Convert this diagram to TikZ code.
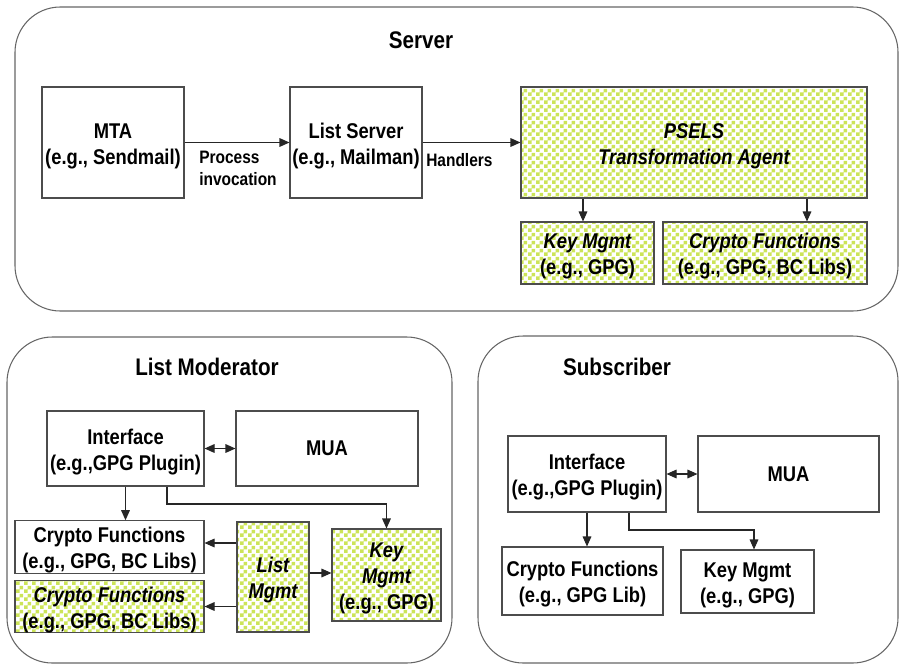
\documentclass[tikz,border=0pt]{standalone}
\usepackage{fontspec}
\setmainfont{Liberation Sans}[FakeStretch=0.86]
\usetikzlibrary{arrows.meta,patterns}
\definecolor{lime}{RGB}{204,228,88}
\newcommand\topstrut{\rule{0pt}{16.5pt}}
\pgfdeclarepatternformonly{mychecker}{\pgfpointorigin}{\pgfqpoint{6pt}{6pt}}{\pgfqpoint{6pt}{6pt}}{%
  \pgfpathrectangle{\pgfpointorigin}{\pgfqpoint{3pt}{3pt}}%
  \pgfpathrectangle{\pgfqpoint{3pt}{3pt}}{\pgfqpoint{3pt}{3pt}}%
  \pgfusepath{fill}}
\begin{document}
\begin{tikzpicture}[x=0.75pt,y=-0.75pt,
  wh/.style 2 args={minimum width=#1*0.75pt, minimum height=#2*0.75pt},
  outer/.style={draw=black!60, line width=0.8pt, rounded corners=34pt, inner sep=0pt},
  box/.style={draw=black!70, line width=0.8pt, fill=white, inner sep=0pt, align=center,
    font=\bfseries\fontsize{16}{19.5}\selectfont},
  green/.style={box, pattern=mychecker, pattern color=lime},
  title/.style={font=\bfseries\fontsize{18}{21}\selectfont, inner sep=0pt},
  lbl/.style={font=\bfseries\fontsize{13.5}{16.5}\selectfont, inner sep=0pt, align=left},
  arr/.style={draw=black!85, line width=0.8pt, -{Triangle[length=7.5pt,width=6.5pt]}},
  darr/.style={draw=black!85, line width=0.8pt, {Triangle[length=7.5pt,width=6.5pt]}-{Triangle[length=7.5pt,width=6.5pt]}}
]
\useasboundingbox (0,0) rectangle (899,664);

% Server
\node[outer, wh={883}{304}] (server) at (456.5,159) {};
\node[title] (servert) at (421,40) {Server};
\node[box, wh={142}{111}] (mta) at (113,142.5) {\topstrut MTA\\(e.g., Sendmail)};
\node[box, wh={132}{111}] (ls) at (356,142.5) {\topstrut List Server\\(e.g., Mailman)};
\node[green, wh={346}{111}] (psels) at (694,142.5) {\topstrut\itshape PSELS\\\itshape Transformation Agent};
\node[green, wh={133}{62}] (skm) at (587.5,253) {\topstrut\itshape Key Mgmt\\(e.g., GPG)};
\node[green, wh={204}{62}] (scf) at (765,253) {\topstrut\itshape Crypto Functions\\(e.g., GPG, BC Libs)};
\node[lbl, anchor=north west] (pinv) at (199,151) {Process\\invocation};
\node[lbl, anchor=west] (hand) at (426,160) {Handlers};
\draw[arr] (mta.east) -- (ls.west);
\draw[arr] (ls.east) -- (psels.west);
\draw[arr] (psels.south -| 583,0) -- (583,0 |- skm.north);
\draw[arr] (psels.south -| 807,0) -- (807,0 |- scf.north);

% List Moderator
\node[outer, wh={445}{326}] (lmod) at (229.5,500) {};
\node[title] (lmodt) at (207,367) {List Moderator};
\node[box, wh={157}{75}] (lint) at (125.5,448.5) {\topstrut Interface\\(e.g.,GPG Plugin)};
\node[box, wh={182}{75}] (lmua) at (327,448.5) {MUA};
\node[box, wh={189}{50}] (lcf1) at (109.5,547) {\topstrut Crypto Functions\\(e.g., GPG, BC Libs)};
\node[green, wh={189}{51}] (lcf2) at (109.5,606.5) {\topstrut\itshape Crypto Functions\\(e.g., GPG, BC Libs)};
\node[green, wh={72}{110}] (llm) at (273,577) {\topstrut\itshape List\\\itshape Mgmt};
\node[green, wh={109}{92}] (lkm) at (386.5,575) {\topstrut\itshape Key\\\itshape Mgmt\\(e.g., GPG)};
\draw[darr] (lint.east) -- (lmua.west);
\draw[arr] (lint.south) -- (lint.south |- lcf1.north);
\draw[arr] (lint.south -| 167,0) -- (167,504) -| (lkm.north);
\draw[arr] (llm.west |- 0,543) -- (lcf1.east |- 0,543);
\draw[arr] (llm.west |- lcf2.east) -- (lcf2.east);
\draw[arr] (llm.east |- 0,573) -- (lkm.west |- 0,573);

% Subscriber
\node[outer, wh={420}{327}] (sub) at (688,499.5) {};
\node[title] (subt) at (617,367) {Subscriber};
\node[box, wh={158}{76}] (sint) at (587,474) {\topstrut Interface\\(e.g.,GPG Plugin)};
\node[box, wh={181}{76}] (smua) at (788.5,474) {MUA};
\node[box, wh={161}{68}] (scr) at (582.5,581) {\topstrut Crypto Functions\\(e.g., GPG Lib)};
\node[box, wh={133}{63}] (skey) at (747.5,581.5) {\topstrut Key Mgmt\\(e.g., GPG)};
\draw[darr] (sint.east) -- (smua.west);
\draw[arr] (sint.south) -- (sint.south |- scr.north);
\draw[arr] (sint.south -| 629,0) -- (629,530) -| (754,0 |- skey.north);
\end{tikzpicture}
\end{document}
